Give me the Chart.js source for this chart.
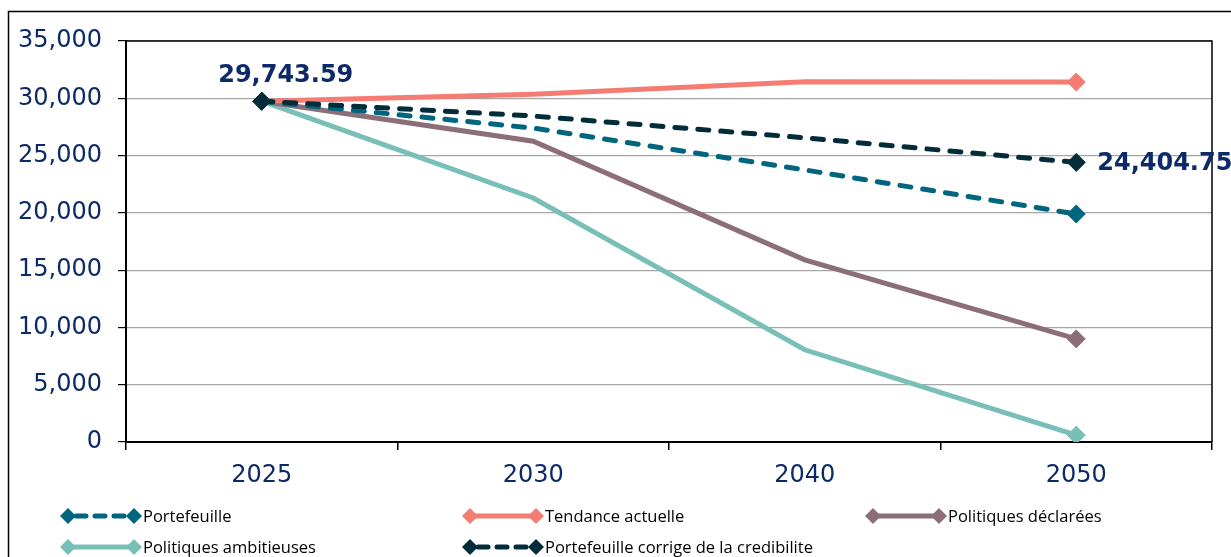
<!DOCTYPE html>
<html>
<head>
<meta charset="utf-8">
<script src="https://cdn.jsdelivr.net/npm/chart.js@4/dist/chart.umd.min.js"></script>
<style>
  html, body { margin: 0; padding: 0; background: #ffffff; }
  #wrap { width: 1231px; height: 557px; position: relative; overflow: hidden; }
</style>
</head>
<body>
<div id="wrap"><canvas id="c" width="1231" height="557"></canvas></div>
<script>
// Emission trajectories per scenario
const years = ['2025', '2030', '2040', '2050'];
const portefeuille = [29743.59, 27400, 23750, 19900];
const tendanceActuelle = [29743.59, 30350, 31450, 31420];
const politiquesDeclarees = [29743.59, 26250, 15900, 9000];
const politiquesAmbitieuses = [29743.59, 21300, 8050, 600];
const portefeuilleCorrige = [29743.59, 28450, 26550, 24404.75];
const yTicks = [0, 5000, 10000, 15000, 20000, 25000, 30000, 35000];

const navy = '#0c2a68';
const fmt = v => v.toLocaleString('en-US');
const endMarkers = [9, 0, 0, 9];

function series(label, data, color, dashed, order) {
  return {
    label, data, order,
    borderColor: color,
    backgroundColor: color,
    pointBackgroundColor: color,
    pointBorderColor: color,
    borderWidth: 5,
    borderDash: dashed ? [11, 12] : [],
    borderCapStyle: dashed ? 'round' : 'butt',
    pointStyle: 'rectRot',
    pointRadius: endMarkers,
    pointHoverRadius: endMarkers,
    pointBorderWidth: 1,
    tension: 0,
    fill: false
  };
}

const datasets = [
  series('Portefeuille', portefeuille, '#00667f', true, 2),
  series('Tendance actuelle', tendanceActuelle, '#f47c72', false, 3),
  series('Politiques déclarées', politiquesDeclarees, '#8c6e78', false, 4),
  series('Politiques ambitieuses', politiquesAmbitieuses, '#78bfb8', false, 5),
  series('Portefeuille corrige de la credibilite', portefeuilleCorrige, '#032c3a', true, 1)
];

// Frame, value labels and the two-row legend
const decorations = {
  id: 'decorations',
  afterDraw(chart) {
    const ctx = chart.ctx;
    const a = chart.chartArea;
    ctx.save();

    // outer border
    ctx.strokeStyle = '#000';
    ctx.lineWidth = 1.5;
    ctx.beginPath();
    ctx.moveTo(8.5, 600);
    ctx.lineTo(8.5, 11.5);
    ctx.lineTo(1300, 11.5);
    ctx.stroke();

    // plot frame (top and right)
    ctx.lineWidth = 1.5;
    ctx.beginPath();
    ctx.moveTo(a.left, a.top);
    ctx.lineTo(a.right, a.top);
    ctx.lineTo(a.right, a.bottom);
    ctx.stroke();

    // value labels on the corrected portfolio series
    const idx = 4;
    const meta = chart.getDatasetMeta(idx);
    const vals = chart.data.datasets[idx].data;
    ctx.fillStyle = navy;
    ctx.font = 'bold 24px "DejaVu Sans"';
    const p0 = meta.data[0];
    ctx.textAlign = 'center';
    ctx.textBaseline = 'alphabetic';
    ctx.fillText(fmt(vals[0]), p0.x + 24, p0.y - 19);
    const p3 = meta.data[3];
    ctx.textAlign = 'left';
    ctx.textBaseline = 'middle';
    ctx.fillText(fmt(vals[3]), p3.x + 21, p3.y + 1);

    // legend
    const cols = [60, 462, 865];
    const rows = [516, 547];
    chart.data.datasets.forEach((ds, i) => {
      const x0 = cols[i % 3];
      const y0 = rows[Math.floor(i / 3)];
      const x1 = x0 + 8, x2 = x0 + 74;
      ctx.strokeStyle = ds.borderColor;
      ctx.lineWidth = 5;
      ctx.lineCap = ds.borderCapStyle;
      ctx.setLineDash(ds.borderDash.length ? [10, 9] : []);
      ctx.beginPath();
      ctx.moveTo(ds.borderDash.length ? x1 + 8 : x1, y0);
      ctx.lineTo(x2, y0);
      ctx.stroke();
      ctx.setLineDash([]);
      ctx.fillStyle = ds.borderColor;
      [x1, x2].forEach(x => {
        ctx.beginPath();
        ctx.moveTo(x, y0 - 8);
        ctx.lineTo(x + 8, y0);
        ctx.lineTo(x, y0 + 8);
        ctx.lineTo(x - 8, y0);
        ctx.closePath();
        ctx.fill();
      });
      ctx.fillStyle = '#000';
      ctx.font = '16.5px "Open Sans"';
      ctx.textAlign = 'left';
      ctx.textBaseline = 'middle';
      ctx.fillText(ds.label, x0 + 83, y0 + 1);
    });
    ctx.restore();
  }
};

new Chart(document.getElementById('c'), {
  type: 'line',
  data: { labels: years, datasets },
  options: {
    responsive: false,
    animation: false,
    events: [],
    layout: { padding: { left: 0, top: 41, right: 19, bottom: 0 } },
    plugins: {
      legend: { display: false },
      tooltip: { enabled: false }
    },
    scales: {
      x: {
        type: 'category',
        offset: true,
        afterFit(scale) { scale.height = 115; },
        grid: {
          offset: true,
          drawOnChartArea: false,
          drawTicks: true,
          tickLength: 8,
          color: '#000',
          tickColor: '#000',
          lineWidth: 1.5
        },
        border: { display: true, color: '#000', width: 2 },
        ticks: {
          color: navy,
          font: { family: '"DejaVu Sans"', size: 24 },
          padding: 11,
          maxRotation: 0
        }
      },
      y: {
        min: 0,
        max: 35000,
        afterFit(scale) { scale.width = 126; },
        afterBuildTicks(scale) { scale.ticks = yTicks.map(v => ({ value: v })); },
        grid: {
          color: '#a6a6a6',
          lineWidth: 1.2,
          tickColor: '#000',
          tickLength: 8,
          drawTicks: true
        },
        border: { display: true, color: '#000', width: 2 },
        ticks: {
          color: navy,
          font: { family: '"DejaVu Sans"', size: 24 },
          padding: 16,
          callback: v => fmt(v)
        }
      }
    }
  },
  plugins: [decorations]
});
</script>
</body>
</html>
